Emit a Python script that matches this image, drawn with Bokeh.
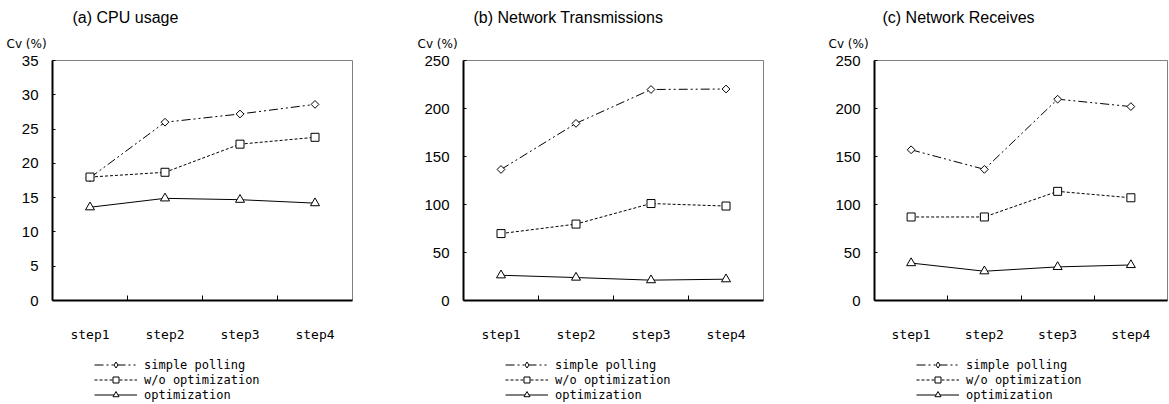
import math
from bokeh.plotting import figure
from bokeh.layouts import row, column
from bokeh.models import Range1d, FixedTicker, Legend, LegendItem, Label
from bokeh.embed import file_html
from bokeh.resources import INLINE

steps = ["step1", "step2", "step3", "step4"]
series_names = ["simple polling", "w/o optimization", "optimization"]

cpu_title = "(a)  CPU usage"
cpu_simple = [17.9, 26.0, 27.2, 28.6]
cpu_woopt = [18.0, 18.7, 22.8, 23.8]
cpu_opt = [13.6, 14.9, 14.7, 14.2]
cpu_ticks = [0, 5, 10, 15, 20, 25, 30, 35]

tx_title = "(b)  Network Transmissions"
tx_simple = [136.5, 184.5, 219.8, 220.3]
tx_woopt = [69.7, 79.6, 101.0, 98.4]
tx_opt = [26.3, 23.9, 21.2, 22.2]
tx_ticks = [0, 50, 100, 150, 200, 250]

rx_title = "(c)  Network Receives"
rx_simple = [157.0, 136.6, 209.7, 202.0]
rx_woopt = [87.0, 87.0, 113.7, 107.0]
rx_opt = [39.0, 30.5, 35.0, 37.0]
rx_ticks = [0, 50, 100, 150, 200, 250]

ylabel = "Cv (%)"

TOTAL_W = 1169
HEAD_H = 50
MAIN_H = 294
LEG_H = 60
MAIN_TOP = 10
FRAME_H = 244

TICK_FONT = "Liberation Sans"
MONO = "DejaVu Sans Mono"

STYLES = [
    dict(dash="9 3 2 3 2 3", marker="square", size=5.5, angle=math.pi / 4,
         leg_marker="diamond", leg_size=8),
    dict(dash="3 2", marker="square", size=8, angle=0.0, leg_marker="square", leg_size=8),
    dict(dash="solid", marker="triangle", size=9, angle=0.0, leg_marker="triangle", leg_size=9),
]

# panel geometry: (figure width, frame left offset, frame width, title dx)
GEOM = [(390, 52, 300, 20), (390, 73, 300, 10), (389, 94, 293, 8)]


def blank(width, height, xr):
    f = figure(width=width, height=height, output_backend="svg", toolbar_location=None,
               x_axis_type=None, y_axis_type=None, title=None,
               x_range=xr, y_range=Range1d(0, 1),
               min_border=0, min_border_left=0, min_border_right=0,
               min_border_top=0, min_border_bottom=0)
    f.outline_line_color = None
    f.xgrid.visible = False
    f.ygrid.visible = False
    f.background_fill_color = "white"
    f.border_fill_color = "white"
    return f


def make_main(series, ticks, fig_w, left, frame_w):
    right = fig_w - left - frame_w
    xs = [i + 1 for i in range(len(steps))]
    p = figure(width=fig_w, height=MAIN_H, output_backend="svg", toolbar_location=None,
               title=None, x_range=Range1d(0.5, len(steps) + 0.5),
               y_range=Range1d(ticks[0], ticks[-1]),
               min_border_left=left, min_border_right=right,
               min_border_top=MAIN_TOP, min_border_bottom=MAIN_H - MAIN_TOP - FRAME_H)
    p.background_fill_color = "white"
    p.border_fill_color = "white"
    p.outline_line_color = "#808080"
    p.outline_line_width = 1
    p.xgrid.visible = False
    p.ygrid.visible = False

    p.yaxis.ticker = FixedTicker(ticks=ticks)
    p.yaxis.axis_line_width = 2
    p.yaxis.axis_line_color = "black"
    p.yaxis.major_tick_line_color = "black"
    p.yaxis.major_tick_in = 3
    p.yaxis.major_tick_out = 0
    p.yaxis.minor_tick_line_color = None
    p.yaxis.major_label_standoff = 14
    p.yaxis.major_label_text_font = TICK_FONT
    p.yaxis.major_label_text_font_size = "15px"
    p.yaxis.major_label_text_color = "black"

    p.xaxis.ticker = FixedTicker(ticks=xs, minor_ticks=[x + 0.5 for x in xs[:-1]])
    p.xaxis.major_label_overrides = {x: s for x, s in zip(xs, steps)}
    p.xaxis.axis_line_width = 2
    p.xaxis.axis_line_color = "black"
    p.xaxis.major_tick_line_color = None
    p.xaxis.minor_tick_in = 5
    p.xaxis.minor_tick_out = 0
    p.xaxis.minor_tick_line_color = "black"
    p.xaxis.minor_tick_line_width = 1
    p.xaxis.major_label_standoff = 20
    p.xaxis.major_label_text_font = MONO
    p.xaxis.major_label_text_font_size = "13px"
    p.xaxis.major_label_text_color = "black"

    for vals, st in zip(series, STYLES):
        p.line(xs, vals, line_color="black", line_width=1, line_dash=st["dash"])
        p.scatter(xs, vals, marker=st["marker"], size=st["size"], angle=st["angle"],
                  fill_color="white", line_color="black", line_width=1)
    return p


titles = [cpu_title, tx_title, rx_title]
all_series = [[cpu_simple, cpu_woopt, cpu_opt], [tx_simple, tx_woopt, tx_opt],
              [rx_simple, rx_woopt, rx_opt]]
all_ticks = [cpu_ticks, tx_ticks, rx_ticks]

# header strip with titles and unit labels
head = blank(TOTAL_W, HEAD_H, Range1d(0, 1))
x0 = 0
for (fw, left, frw, tdx), t in zip(GEOM, titles):
    head.add_layout(Label(x=x0 + left + tdx, y=HEAD_H - 17, x_units="screen", y_units="screen",
                          text=t, text_font=TICK_FONT, text_font_size="16px",
                          text_baseline="middle", text_color="black"))
    head.add_layout(Label(x=x0 + left - 46, y=HEAD_H - 43, x_units="screen", y_units="screen",
                          text=ylabel, text_font="DejaVu Sans", text_font_size="12px",
                          text_baseline="middle", text_color="black"))
    x0 += fw

mains = [make_main(s, tk, fw, left, frw)
         for s, tk, (fw, left, frw, tdx) in zip(all_series, all_ticks, GEOM)]

# legend strip: sample renderers sit outside the visible x range
leg = blank(TOTAL_W, LEG_H, Range1d(-10, -9))
xs_leg = [i + 1 for i in range(len(steps))]
renderer_pairs = []
for vals, st in zip(all_series[0], STYLES):
    r1 = leg.line(xs_leg, vals, line_color="black", line_width=1, line_dash=st["dash"])
    r2 = leg.scatter(xs_leg, vals, marker=st["leg_marker"], size=st["leg_size"],
                     fill_color="white", line_color="black", line_width=1)
    renderer_pairs.append([r1, r2])

x0 = 0
for fw, left, frw, tdx in GEOM:
    items = [LegendItem(label=n, renderers=rp) for n, rp in zip(series_names, renderer_pairs)]
    legend = Legend(items=items, location=(x0 + left + 42, 2), orientation="vertical",
                    glyph_width=43, glyph_height=15, label_height=15,
                    label_standoff=7, spacing=0, padding=0, margin=0,
                    border_line_color=None, background_fill_alpha=0,
                    label_text_font=MONO, label_text_font_size="12px",
                    label_text_color="black")
    leg.add_layout(legend)
    x0 += fw

layout = column(head, row(*mains), leg)
open("out.html", "w").write(file_html(layout, INLINE))
